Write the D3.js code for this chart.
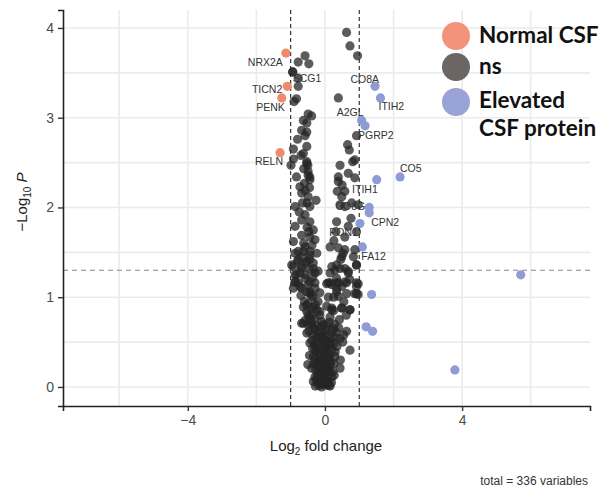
<!DOCTYPE html>
<html>
<head>
<meta charset="utf-8">
<script src="https://cdn.jsdelivr.net/npm/d3@7"></script>
<style>
	body { margin: 0; background: #fff; }
	svg { display: block; font-family: "Liberation Sans", Arial, sans-serif; }
</style>
</head>
<body>
<script>
'use strict';

// axis ticks
let xTicks = [-4, 0, 4];
let xMinor = [-6, -2, 2, 6];
let yTicks = [0, 1, 2, 3, 4];
let yMinor = [0.5, 1.5, 2.5, 3.5];
let fcCut = 1;
let pCut = -Math.log10(0.05);

// Normal CSF (log2 FC < -1)
let normalNames = ['NRX2A', 'TICN2', 'PENK', 'RELN'];
let normalFC = [-1.14, -1.10, -1.26, -1.31];
let normalLogP = [3.72, 3.35, 3.22, 2.61];

// Elevated CSF protein (log2 FC > 1)
let elevatedNames = ['CO8A', 'ITIH2', 'A2GL', 'PGRP2', 'CO5', 'ITIH1', 'CO8G', 'CPN2', 'PON1', 'FA12', '', '', '', '', ''];
let elevatedFC = [1.46, 1.62, 1.07, 1.17, 2.19, 1.51, 1.29, 1.29, 1.02, 1.09, 1.36, 1.20, 1.39, 5.71, 3.79];
let elevatedLogP = [3.35, 3.22, 2.97, 2.91, 2.34, 2.31, 2.00, 1.94, 1.82, 1.56, 1.03, 0.67, 0.62, 1.25, 0.19];

// not significant: [log2 FC, -log10 P]
let nsPoints = [
	[0.63,3.95],[0.73,3.80],[0.95,3.69],[-0.58,3.69],[-0.78,3.62],[-0.47,3.60],[-0.94,3.51],[-0.78,3.44],
	[-0.78,3.35],[-0.83,3.21],[-0.90,3.18],[0.39,3.22],
	[-0.49,3.04],[-0.39,3.02],[-0.63,2.97],[-0.53,2.94],[-0.68,2.86],[-0.53,2.84],[-0.58,2.80],[-0.80,2.76],
	[-0.92,2.65],[-0.53,2.68],[-0.63,2.60],[-0.92,2.54],[-0.53,2.51],[-0.70,2.58],[-0.49,2.40],[-0.83,2.34],
	[-0.44,2.34],[-0.99,2.47],[-0.50,2.47],
	[0.92,2.80],[0.66,2.70],[0.71,2.64],[0.87,2.53],[0.81,2.51],[0.44,2.47],[0.39,2.34],[0.87,2.33],
	[-0.53,2.49],[-0.49,2.36],[-0.44,2.31],[-0.73,2.23],[-0.58,2.19],[-0.68,2.16],[-0.49,2.12],[-0.26,2.08],
	[-0.87,2.01],[-0.44,2.01],[-0.58,1.92],[-0.68,1.86],[-0.44,1.84],[-0.87,1.79],[-0.34,1.75],[-0.68,1.69],
	[-0.44,1.67],[-0.92,1.62],[-0.29,1.64],[-0.58,1.56],[-0.78,1.51],[-0.44,1.51],[-0.65,1.45],[-0.44,1.42],
	[-0.97,1.36],[-0.68,1.34],[-0.34,1.32],[-0.87,1.25],[-0.58,1.21],[-0.78,1.16],[-0.44,1.17],[-0.29,1.10],
	[-0.44,1.04],
	[0.68,2.38],[0.39,2.29],[0.36,2.18],[0.58,2.18],[0.49,2.12],[0.78,2.05],[0.44,2.03],[0.58,2.01],
	[0.97,2.03],[0.34,1.84],[0.68,1.79],[0.92,1.73],[0.32,1.73],[0.58,1.67],[0.15,1.56],[0.39,1.55],
	[0.58,1.53],[0.87,1.53],[0.49,1.45],[0.83,1.45],[0.34,1.36],[0.58,1.32],[0.92,1.36],[0.15,1.27],
	[0.68,1.27],[0.34,1.21],[0.15,1.16],[0.49,1.12],[0.92,1.12],[0.34,1.06],[0.63,1.04],[0.97,1.03],
	[-0.87,1.17],[-0.68,1.10],[-0.44,1.06],[-0.34,1.01],[-0.53,0.91],[-0.63,0.89],[-0.39,0.86],[-0.49,0.80],
	[-0.15,0.84],[-0.63,0.71],[-0.39,0.73],[-0.10,0.67],[-0.53,0.60],[-0.29,0.64],[0.05,0.64],[0.24,0.65],
	[0.63,0.62],[0.44,0.54],[-0.20,0.56],[-0.05,0.50],[-0.44,0.49],[0.15,0.47],[-0.29,0.41],[0.00,0.39],
	[0.73,0.41],[-0.34,0.34],[-0.15,0.30],[0.10,0.32],[0.29,0.34],[-0.24,0.25],[0.00,0.23],[0.44,0.21],
	[-0.39,0.21],[-0.15,0.17],[0.15,0.17],[-0.29,0.11],[-0.05,0.10],[0.20,0.11],[-0.20,0.04],[0.05,0.02],
	[-0.34,0.06],[-0.10,0.00],[0.15,0.01],
	[0.20,1.14],[0.39,1.16],[0.63,1.16],[0.97,1.15],[0.39,1.01],[0.92,1.04],[0.20,0.88],[0.49,0.88],
	[0.73,0.86],[-0.92,1.10],
	[-0.87,1.49],[-0.63,1.51],[-0.44,1.47],[-0.24,1.49],[-0.78,1.42],[-0.53,1.40],[-0.34,1.38],[-0.92,1.34],
	[-0.68,1.32],[-0.44,1.31],[-0.20,1.29],[-0.83,1.25],[-0.58,1.25],[-0.29,1.27],[-0.87,1.17],[-0.73,1.12],
	[-0.49,1.14],[-0.29,1.16],[-0.53,1.06],[-0.39,1.01],[-0.49,0.93],[-0.34,0.89],[-0.53,0.84],[-0.39,0.80],
	[-0.24,0.86],[-0.68,0.71],[-0.49,0.69],[-0.10,0.73],[0.05,0.69],
	[0.20,1.34],[0.29,1.30],[0.44,1.32],[0.68,1.29],[0.92,1.36],[0.10,1.16],[0.34,1.16],[0.58,1.17],
	[0.34,1.10],[0.92,1.16],[0.87,1.04],[0.20,0.86],[0.49,0.88],[0.73,0.86],[0.53,1.49],
	[-0.58,0.74],[-0.41,0.70],[-0.30,0.76],[0.12,0.72],[0.28,0.70],[0.40,0.66],[-0.22,0.68],
	[-0.46,0.62],[-0.35,0.58],[-0.12,0.61],[0.00,0.60],[0.10,0.57],[0.33,0.61],[0.55,0.58],[-0.25,0.55],
	[-0.38,0.52],[-0.20,0.49],[-0.08,0.53],[0.06,0.51],[0.18,0.54],[0.27,0.49],[-0.31,0.47],[0.02,0.45],
	[-0.36,0.43],[-0.24,0.40],[-0.10,0.42],[0.08,0.40],[0.20,0.42],[0.30,0.39],[-0.17,0.37],[-0.03,0.36],
	[0.13,0.35],[-0.30,0.31],[-0.21,0.28],[-0.07,0.29],[0.04,0.27],[0.18,0.29],[0.26,0.26],[-0.12,0.24],
	[0.09,0.22],[-0.33,0.26],[-0.27,0.19],[-0.18,0.21],[-0.05,0.18],[0.02,0.15],[0.11,0.19],[0.23,0.17],
	[-0.10,0.13],[0.07,0.12],[-0.22,0.14],[-0.25,0.08],[-0.14,0.07],[-0.02,0.08],[0.09,0.06],[0.19,0.05],
	[-0.08,0.03],[0.03,0.04],[-0.17,0.02],[0.12,0.02],[-0.28,0.01],
	[-0.45,0.35],[0.35,0.45],[0.45,0.30],[-0.50,0.25],[0.52,0.50],[-0.05,0.70],[0.15,0.78],[-0.15,0.80],
	[0.25,0.85],[0.05,0.90],[-0.20,0.95],[0.10,1.00],[-0.06,0.05],[0.00,0.20],[-0.14,0.33],[0.16,0.25],
	[-0.01,0.43],[-0.09,0.56],[0.21,0.62],[-0.32,0.66],[0.06,0.33],[-0.24,0.45],[0.27,0.13],[-0.19,0.60],
	[0.14,0.48],
	[-0.60,2.27],[-0.52,2.05],[-0.75,1.95],[-0.47,1.73],[-0.62,1.60],[-0.80,1.40],[-0.55,1.38],[-0.36,1.22],
	[-0.70,1.02],[-0.60,0.95],[-0.45,0.77],[-0.28,0.92],[-0.15,1.05],[0.05,1.15],[0.25,1.00],[0.55,0.95],
	[0.42,0.75],[0.62,0.80],[0.30,0.55],[-0.62,2.43],[-0.45,2.22],[-0.66,2.05],[-0.52,1.78],[-0.38,1.58],
	[-0.73,1.27],[0.72,1.20],[0.46,1.42],[0.26,1.63],[0.76,1.88],[0.50,2.25]
];

// ns points that carry a label
let nsLabelNames = ['SCG1'];
let nsLabelFC = [-0.94];
let nsLabelLogP = [3.51];

let legendNames = ['Normal CSF', 'ns', 'Elevated', 'CSF protein'];
let totalText = 'total = 336 variables';

// label placement relative to the point (pixels)
let labelNudge = {
	NRX2A: {dx: -3, dy: 13, anchor: 'end'},
	TICN2: {dx: -5, dy: 7, anchor: 'end'},
	PENK: {dx: 3, dy: 13, anchor: 'end'},
	RELN: {dx: 3, dy: 12, anchor: 'end'},
	SCG1: {dx: 0, dy: 10, anchor: 'start'},
	CO8A: {dx: 4, dy: -3, anchor: 'end'},
	ITIH2: {dx: -2, dy: 12, anchor: 'start'},
	A2GL: {dx: 2, dy: -4, anchor: 'end'},
	PGRP2: {dx: -7, dy: 13, anchor: 'start'},
	CO5: {dx: 0, dy: -5, anchor: 'start'},
	ITIH1: {dx: 1, dy: 13, anchor: 'end'},
	CO8G: {dx: -4, dy: 3, anchor: 'end'},
	CPN2: {dx: 2, dy: 13, anchor: 'start'},
	PON1: {dx: -2, dy: 12, anchor: 'end'},
	FA12: {dx: -1, dy: 13, anchor: 'start'}
};

let width = 609;
let height = 490;
let margin = {left: 63, right: 19, top: 10, bottom: 84};

let x = d3.scaleLinear()
	.domain([-7.64, 7.73])
	.range([margin.left, width - margin.right]);
let y = d3.scaleLinear()
	.domain([-0.212, 4.2])
	.range([height - margin.bottom, margin.top]);

let svg = d3.select('body').append('svg')
	.attr('width', width)
	.attr('height', height);

// grid
let grid = svg.append('g');
grid.selectAll('.vmin').data(xMinor.concat(xTicks)).enter().append('line')
	.attr('x1', d => x(d)).attr('x2', d => x(d))
	.attr('y1', y.range()[0]).attr('y2', y.range()[1])
	.attr('stroke', '#ebebeb').attr('stroke-width', 1.6);
grid.selectAll('.hmin').data(yMinor.concat(yTicks)).enter().append('line')
	.attr('x1', x.range()[0]).attr('x2', x.range()[1])
	.attr('y1', d => y(d)).attr('y2', d => y(d))
	.attr('stroke', '#ebebeb').attr('stroke-width', 1.6);

// cutoffs
svg.selectAll('.vcut').data([-fcCut, fcCut]).enter().append('line')
	.attr('x1', d => x(d)).attr('x2', d => x(d))
	.attr('y1', y.range()[0]).attr('y2', y.range()[1])
	.attr('stroke', '#222').attr('stroke-width', 1.1)
	.attr('stroke-dasharray', '4,3');
svg.append('line')
	.attr('x1', x.range()[0]).attr('x2', x.range()[1])
	.attr('y1', y(pCut)).attr('y2', y(pCut))
	.attr('stroke', '#888').attr('stroke-width', 1.1)
	.attr('stroke-dasharray', '5,4');

// points
let normalData = normalNames.map((n, i) => ({name: n, fc: normalFC[i], p: normalLogP[i]}));
let elevatedData = elevatedNames.map((n, i) => ({name: n, fc: elevatedFC[i], p: elevatedLogP[i]}));
let nsData = nsPoints.map(d => ({name: '', fc: d[0], p: d[1]}))
	.concat(nsLabelNames.map((n, i) => ({name: n, fc: nsLabelFC[i], p: nsLabelLogP[i]})));

let r = 4.6;
svg.append('g').selectAll('circle').data(normalData).enter().append('circle')
	.attr('cx', d => x(d.fc)).attr('cy', d => y(d.p)).attr('r', r)
	.attr('fill', '#f08a6c');
svg.append('g').selectAll('circle').data(elevatedData).enter().append('circle')
	.attr('cx', d => x(d.fc)).attr('cy', d => y(d.p)).attr('r', r)
	.attr('fill', '#8f9bd4');
svg.append('g').selectAll('circle').data(nsData).enter().append('circle')
	.attr('cx', d => x(d.fc)).attr('cy', d => y(d.p)).attr('r', r)
	.attr('fill', '#262626').attr('fill-opacity', 0.75);

// point labels
let labelled = normalData.concat(elevatedData, nsData).filter(d => d.name !== '');
svg.append('g').selectAll('text').data(labelled).enter().append('text')
	.attr('x', d => x(d.fc) + labelNudge[d.name].dx)
	.attr('y', d => y(d.p) + labelNudge[d.name].dy)
	.attr('text-anchor', d => labelNudge[d.name].anchor)
	.attr('font-size', '10.5px')
	.attr('fill', '#333')
	.text(d => d.name);

// axes
let xAxis = d3.axisBottom(x).tickValues(xTicks).tickSize(5).tickPadding(4)
	.tickFormat(d => d < 0 ? '\u2212' + Math.abs(d) : String(d));
let yAxis = d3.axisLeft(y).tickValues(yTicks).tickSize(5).tickPadding(4)
	.tickFormat(d => String(d));

let xg = svg.append('g')
	.attr('transform', 'translate(0,' + y.range()[0] + ')')
	.call(xAxis);
let yg = svg.append('g')
	.attr('transform', 'translate(' + x.range()[0] + ',0)')
	.call(yAxis);
[xg, yg].forEach(function(g){
	g.select('.domain').attr('stroke', '#222').attr('stroke-width', 1.6);
	g.selectAll('.tick line').attr('stroke', '#333').attr('stroke-width', 1.4);
	g.selectAll('.tick text').attr('fill', '#4d4d4d').attr('font-size', '14px')
		.attr('font-family', '"Liberation Sans", Arial, sans-serif');
});

// axis titles
let xTitle = svg.append('text')
	.attr('x', 326).attr('y', 451)
	.attr('text-anchor', 'middle')
	.attr('font-size', '15px').attr('fill', '#222');
xTitle.append('tspan').text('Log');
xTitle.append('tspan').attr('font-size', '10px').attr('dy', 4).text('2');
xTitle.append('tspan').attr('dy', -4).text(' fold change');

let yTitle = svg.append('text')
	.attr('transform', 'translate(27,202) rotate(-90)')
	.attr('text-anchor', 'middle')
	.attr('font-size', '15px').attr('fill', '#222');
yTitle.append('tspan').text('\u2212Log');
yTitle.append('tspan').attr('font-size', '10px').attr('dy', 4).text('10');
yTitle.append('tspan').attr('dy', -4).text(' ');
yTitle.append('tspan').attr('font-style', 'italic').text('P');

svg.append('text')
	.attr('x', 588).attr('y', 485)
	.attr('text-anchor', 'end')
	.attr('font-size', '12px').attr('fill', '#333')
	.text(totalText);

// legend
let legend = svg.append('g');
let legendColors = ['#f4937b', '#6b6565', '#99a3d6'];
legend.selectAll('circle').data(legendColors).enter().append('circle')
	.attr('cx', 456)
	.attr('cy', (d, i) => [36, 67, 102][i])
	.attr('r', 14)
	.attr('fill', d => d);
legend.selectAll('text').data(legendNames).enter().append('text')
	.attr('x', 479)
	.attr('y', (d, i) => [43, 74, 108, 136][i])
	.attr('font-family', 'Lato, "Open Sans", sans-serif')
	.attr('font-weight', 'bold')
	.attr('font-size', '22.5px')
	.attr('fill', '#111')
	.text(d => d);
</script>
</body>
</html>
